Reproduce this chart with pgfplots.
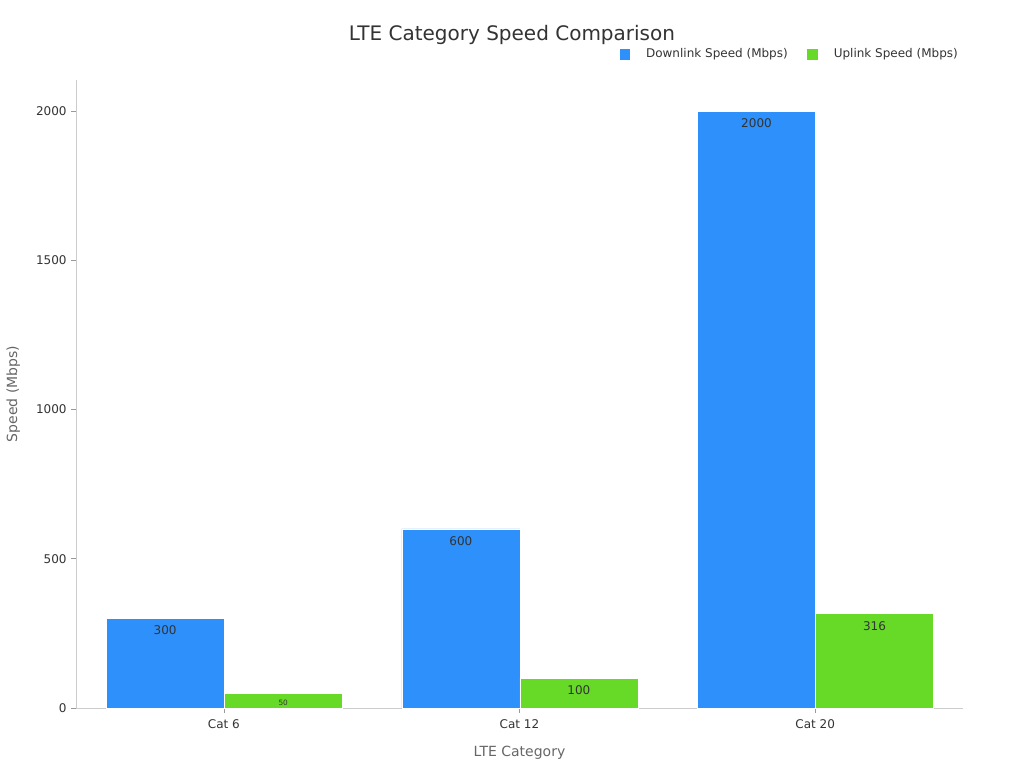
\documentclass[border=0pt]{standalone}
\usepackage{pgfplots}
\pgfplotsset{compat=1.18}
\usepackage{fontspec}
\setmainfont{DejaVu Sans}
\definecolor{dlblue}{HTML}{2E90FA}
\definecolor{ulgreen}{HTML}{66DA26}
\definecolor{axgray}{HTML}{CCCCCC}
\definecolor{tickgray}{HTML}{999999}
\definecolor{txt}{HTML}{333333}
\definecolor{lbl}{HTML}{666666}
\begin{document}
\begin{tikzpicture}[x=1pt,y=1pt]
\useasboundingbox (0,0) rectangle (768,576);
\node[font=\fontsize{15}{18}\selectfont, text=txt] at (384,550) {LTE Category Speed Comparison};
\begin{axis}[
    at={(57pt,45pt)}, anchor=south west,
    scale only axis, width=665.25pt, height=471pt,
    ybar, bar width=88.5pt,
    xmin=-0.5, xmax=2.5, ymin=0, ymax=2104,
    enlargelimits=false,
    axis x line=bottom, axis y line=left,
    axis line style={draw=axgray, -},
    xtick={0,1,2}, xticklabels={Cat 6, Cat 12, Cat 20},
    ytick={0,500,1000,1500,2000},
    tick align=outside, major tick length=3.5pt,
    tick style={draw=tickgray, thin},
    ticklabel style={font=\fontsize{9}{11}\selectfont, text=txt},
    xticklabel style={yshift=-1.5pt},
    /pgf/number format/assume math mode=true,
    /pgf/number format/1000 sep={},
    xlabel={LTE Category}, ylabel={Speed (Mbps)},
    every axis x label/.style={at={(axis description cs:0.5,-0.071)}, anchor=center, font=\fontsize{10.5}{12}\selectfont, text=lbl},
    every axis y label/.style={at={(axis description cs:-0.0707,0.5)}, rotate=90, anchor=center, font=\fontsize{10.5}{12}\selectfont, text=lbl},
    legend style={at={(1.002,1.041)}, anchor=east, draw=none, fill=none,
        font=\fontsize{9}{11}\selectfont, text=txt,
        /tikz/every odd column/.append style={column sep=9.5pt},
        /tikz/every even column/.append style={column sep=12pt}},
    legend columns=2,
    legend image code/.code={\fill[#1] (0pt,-4.25pt) rectangle (8.5pt,4.25pt);},
    nodes near coords,
    point meta=explicit symbolic,
    every node near coord/.append style={anchor=north, yshift=-2pt, font=\fontsize{9}{11}\selectfont, text=txt},
]
\addplot[fill=dlblue, draw=white, line width=0.5pt, bar shift=-44pt]
    coordinates {(0,300)[300] (1,600)[600] (2,2000)[2000]};
\addplot[fill=ulgreen, draw=white, line width=0.5pt, bar shift=44.5pt]
    coordinates {(0,50)[{\fontsize{5.5}{6}\selectfont 50}] (1,100)[100] (2,316)[316]};
\legend{Downlink Speed (Mbps), Uplink Speed (Mbps)}
\end{axis}
\end{tikzpicture}
\end{document}
